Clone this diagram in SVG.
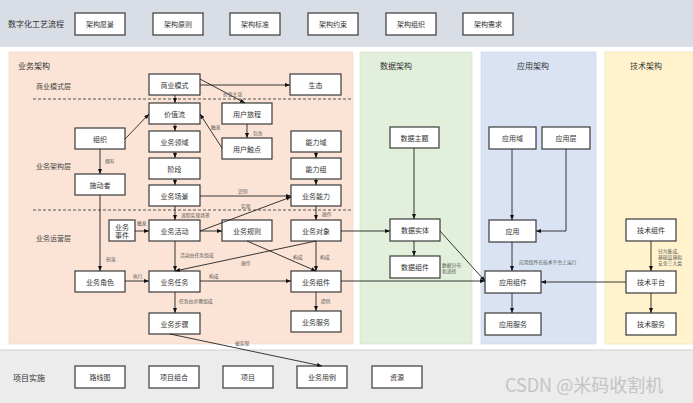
<svg xmlns="http://www.w3.org/2000/svg" width="693" height="403" viewBox="0 0 693 403">
<defs>
<marker id="arr" viewBox="0 0 10 10" refX="10" refY="5" markerWidth="5" markerHeight="5" markerUnits="userSpaceOnUse" orient="auto"><path d="M0,1 L10,5 L0,9 z" fill="#111"/></marker>
</defs>
<style>
text{font-family:"Noto Sans CJK SC","Noto Sans",sans-serif}
.node rect{fill:#fff;stroke:#3a3a3a;stroke-width:1.2}
.node text{font-size:7px;fill:#333;text-anchor:middle;dominant-baseline:central}
.conn path{stroke:#222;stroke-width:0.9;fill:none;marker-end:url(#arr)}
.lbl{font-size:4.8px;fill:#555}
.title{font-size:8px;fill:#333}
.layer{font-size:7px;fill:#444}
.dash{stroke:#555;stroke-width:1;stroke-dasharray:3,2}
</style>
<rect width="693" height="403" fill="#fff"/>
<rect x="0" y="0" width="693" height="47" fill="#d8dde6"/>
<rect x="0" y="350" width="693" height="53" fill="#ececec"/>
<line x1="0" y1="350" x2="693" y2="350" stroke="#d0d0d0"/>
<rect x="9" y="52" width="344" height="292" fill="#fbe4d6" stroke="#f0d2c0" stroke-width="0.6"/>
<rect x="360" y="52" width="112" height="292" fill="#e2efda" stroke="#d2e2c8" stroke-width="0.6"/>
<rect x="481" y="52" width="115" height="292" fill="#dae3f3" stroke="#c8d4e8" stroke-width="0.6"/>
<rect x="605" y="52" width="90" height="292" fill="#fff2cc" stroke="#efe0b0" stroke-width="0.6"/>
<text class="title" x="8" y="27">数字化工艺流程</text>
<text class="title" x="18" y="69">业务架构</text>
<text class="title" x="380" y="69">数据架构</text>
<text class="title" x="533" y="69" text-anchor="middle">应用架构</text>
<text class="title" x="630" y="69">技术架构</text>
<text class="title" x="13" y="381">项目实施</text>
<text class="layer" x="36" y="89">商业模式层</text>
<text class="layer" x="36" y="169">业务架构层</text>
<text class="layer" x="36" y="241">业务运营层</text>
<line class="dash" x1="33" y1="99" x2="352" y2="99"/>
<line class="dash" x1="33" y1="210" x2="352" y2="210"/>
<g id="top-nodes">
<g id="n-vision" class="node"><rect x="75" y="13" width="50" height="22"/><text x="100" y="24">架构愿景</text></g>
<g id="n-principle" class="node"><rect x="153" y="13" width="50" height="22"/><text x="178" y="24">架构原则</text></g>
<g id="n-standard" class="node"><rect x="230" y="13" width="50" height="22"/><text x="255" y="24">架构标准</text></g>
<g id="n-constraint" class="node"><rect x="308" y="13" width="50" height="22"/><text x="333" y="24">架构约束</text></g>
<g id="n-organization" class="node"><rect x="386" y="13" width="50" height="22"/><text x="411" y="24">架构组织</text></g>
<g id="n-requirement" class="node"><rect x="463" y="13" width="50" height="22"/><text x="488" y="24">架构需求</text></g>
</g>
<g id="n-bizmodel" class="node"><rect x="149" y="74" width="51" height="21"/><text x="174.5" y="84.5">商业模式</text></g>
<g id="n-eco" class="node"><rect x="290" y="74" width="51" height="21"/><text x="315.5" y="84.5">生态</text></g>
<g id="n-value" class="node"><rect x="149" y="103" width="51" height="21"/><text x="174.5" y="113.5">价值流</text></g>
<g id="n-journey" class="node"><rect x="222" y="103" width="50" height="21"/><text x="247" y="113.5">用户旅程</text></g>
<g id="n-touch" class="node"><rect x="222" y="138" width="50" height="21"/><text x="247" y="148.5">用户触点</text></g>
<g id="n-domain" class="node"><rect x="149" y="131" width="51" height="21"/><text x="174.5" y="141.5">业务领域</text></g>
<g id="n-capdom" class="node"><rect x="291" y="131" width="50" height="21"/><text x="316" y="141.5">能力域</text></g>
<g id="n-org" class="node"><rect x="75" y="128" width="50" height="21"/><text x="100" y="138.5">组织</text></g>
<g id="n-stage" class="node"><rect x="149" y="158" width="51" height="21"/><text x="174.5" y="168.5">阶段</text></g>
<g id="n-capgrp" class="node"><rect x="291" y="158" width="50" height="21"/><text x="316" y="168.5">能力组</text></g>
<g id="n-actor" class="node"><rect x="75" y="174" width="50" height="21"/><text x="100" y="184.5">施动者</text></g>
<g id="n-scene" class="node"><rect x="149" y="185" width="51" height="21"/><text x="174.5" y="195.5">业务场景</text></g>
<g id="n-cap" class="node"><rect x="291" y="185" width="50" height="21"/><text x="316" y="195.5">业务能力</text></g>
<g id="n-event" class="node"><rect x="109" y="220" width="26" height="21"/><text x="122" y="226.5">业务</text><text x="122" y="235">事件</text></g>
<g id="n-activity" class="node"><rect x="149" y="220" width="51" height="21"/><text x="174.5" y="230.5">业务活动</text></g>
<g id="n-rule" class="node"><rect x="222" y="220" width="50" height="21"/><text x="247" y="230.5">业务规则</text></g>
<g id="n-object" class="node"><rect x="291" y="220" width="50" height="21"/><text x="316" y="230.5">业务对象</text></g>
<g id="n-role" class="node"><rect x="75" y="271" width="50" height="21"/><text x="100" y="281.5">业务角色</text></g>
<g id="n-task" class="node"><rect x="149" y="271" width="51" height="21"/><text x="174.5" y="281.5">业务任务</text></g>
<g id="n-bizcomp" class="node"><rect x="291" y="271" width="50" height="21"/><text x="316" y="281.5">业务组件</text></g>
<g id="n-step" class="node"><rect x="149" y="313" width="51" height="21"/><text x="174.5" y="323.5">业务步骤</text></g>
<g id="n-bizsvc" class="node"><rect x="291" y="311" width="50" height="21"/><text x="316" y="321.5">业务服务</text></g>
<g id="n-theme" class="node"><rect x="390" y="127" width="49" height="21"/><text x="414.5" y="137.5">数据主题</text></g>
<g id="n-entity" class="node"><rect x="390" y="219" width="50" height="22"/><text x="415" y="230">数据实体</text></g>
<g id="n-datacomp" class="node"><rect x="390" y="256" width="50" height="22"/><text x="415" y="267">数据组件</text></g>
<g id="n-appdom" class="node"><rect x="489" y="127" width="47" height="22"/><text x="512.5" y="138">应用域</text></g>
<g id="n-applayer" class="node"><rect x="542" y="127" width="48" height="22"/><text x="566" y="138">应用层</text></g>
<g id="n-app" class="node"><rect x="489" y="220" width="47" height="22"/><text x="512.5" y="231">应用</text></g>
<g id="n-appcomp" class="node"><rect x="485" y="271" width="56" height="22"/><text x="513" y="282">应用组件</text></g>
<g id="n-appsvc" class="node"><rect x="485" y="313" width="56" height="22"/><text x="513" y="324">应用服务</text></g>
<g id="n-techcomp" class="node"><rect x="626" y="219" width="50" height="22"/><text x="651" y="230">技术组件</text></g>
<g id="n-techplat" class="node"><rect x="626" y="271" width="50" height="22"/><text x="651" y="282">技术平台</text></g>
<g id="n-techsvc" class="node"><rect x="626" y="313" width="50" height="22"/><text x="651" y="324">技术服务</text></g>
<g id="n-roadmap" class="node"><rect x="75" y="366" width="50" height="22"/><text x="100" y="377">路线图</text></g>
<g id="n-portfolio" class="node"><rect x="149" y="366" width="50" height="22"/><text x="174" y="377">项目组合</text></g>
<g id="n-project" class="node"><rect x="223" y="366" width="50" height="22"/><text x="248" y="377">项目</text></g>
<g id="n-usecase" class="node"><rect x="297" y="366" width="50" height="22"/><text x="322" y="377">业务用例</text></g>
<g id="n-resource" class="node"><rect x="372" y="366" width="50" height="22"/><text x="397" y="377">资源</text></g>
<g id="connectors" class="conn">
<path d="M200,85 H290"/>
<path d="M175,95 V103"/>
<path d="M200,79 L245,103"/>
<path d="M125,139 L149,114"/>
<path d="M175,124 V131"/>
<path d="M175,152 V158"/>
<path d="M175,179 V185"/>
<path d="M247,124 V138"/>
<path d="M222,148 L200,114"/>
<path d="M316,152 V158"/>
<path d="M316,179 V185"/>
<path d="M100,149 V174"/>
<path d="M200,196 H291"/>
<path d="M175,206 V220"/>
<path d="M200,231 L291,197"/>
<path d="M200,231 H222"/>
<path d="M135,231 H149"/>
<path d="M316,206 V220"/>
<path d="M100,195 V271"/>
<path d="M175,241 V271"/>
<path d="M316,241 L175,271"/>
<path d="M247,241 L316,271"/>
<path d="M316,241 V271"/>
<path d="M125,281 H149"/>
<path d="M200,281 H291"/>
<path d="M175,292 V313"/>
<path d="M316,292 V311"/>
<path d="M170,334 L322,366"/>
<path d="M341,231 H390"/>
<path d="M414,148 V219"/>
<path d="M414,241 V256"/>
<path d="M440,231 L485,281"/>
<path d="M341,281 H485"/>
<path d="M512,149 V220"/>
<path d="M566,149 V231 H536"/>
<path d="M512,242 V271"/>
<path d="M626,282 H541"/>
<path d="M651,241 V271"/>
<path d="M651,293 V313"/>
<path d="M512,293 V313"/>
</g>
<g id="labels" class="lbl">
<text x="223" y="96">价值主张</text>
<text x="253" y="135">包含</text>
<text x="211" y="129">触发</text>
<text x="105" y="163">拥有</text>
<text x="238" y="193">识别</text>
<text x="181" y="217">流程实现场景</text>
<text x="241" y="208">实现</text>
<text x="137" y="225">触发</text>
<text x="322" y="216">操作</text>
<text x="106" y="261">扮演</text>
<text x="180" y="257">活动由任务组成</text>
<text x="241" y="265">操作</text>
<text x="293" y="259">构成</text>
<text x="320" y="259">构成</text>
<text x="133" y="278">执行</text>
<text x="209" y="278">构成</text>
<text x="179" y="303">任务由步骤组成</text>
<text x="321" y="303">提供</text>
<text x="235" y="345">被实现</text>
<text x="442" y="267">数据分布</text>
<text x="442" y="273">和流转</text>
<text x="519" y="264">应用组件在技术平台上运行</text>
<text x="658" y="253">分为集成、</text>
<text x="658" y="259">基础设施和</text>
<text x="658" y="265">安全三大类</text>
</g>
<text x="505" y="392" font-size="18" fill="#c4c4c4" font-family="'Liberation Sans','Noto Sans CJK SC',sans-serif">CSDN @米码收割机</text>
</svg>
